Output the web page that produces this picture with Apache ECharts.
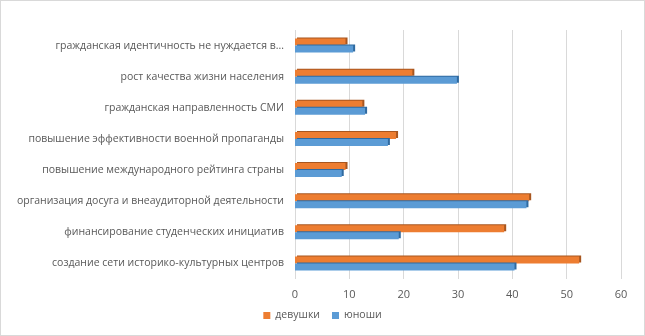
<!DOCTYPE html>
<html><head><meta charset="utf-8">
<script src="https://cdn.jsdelivr.net/npm/echarts@6/dist/echarts.min.js"></script>
<style>html,body{margin:0;padding:0;background:#fff}#c{width:645px;height:336px;box-sizing:border-box;border:1px solid #d9d9d9}</style>
</head><body><div id="c"></div>
<script>
const categories = [
  "создание сети историко-культурных центров",
  "финансирование студенческих инициатив",
  "организация досуга и внеаудиторной деятельности",
  "повышение международного рейтинга страны",
  "повышение эффективности военной пропаганды",
  "гражданская направленность СМИ",
  "рост качества жизни населения",
  "гражданская идентичность не нуждается в..."
];
const girls = [52.3, 38.5, 43.1, 9.3, 18.6, 12.4, 21.6, 9.3];
const boys  = [40.4, 19.1, 42.6, 8.6, 17.1, 12.9, 29.8, 10.7];
const seriesNames = ["девушки", "юноши"];
const xTicks = {min: 0, max: 60, interval: 10};

const chart = echarts.init(document.getElementById('c'));
const font = '"Open Sans", "Liberation Sans", sans-serif';
chart.setOption({
  animation: false,
  textStyle: {fontFamily: font},
  grid: {left: 294, right: 23, top: 29, bottom: 56, containLabel: false},
  legend: {
    data: seriesNames, bottom: 9, left: 'center', itemWidth: 7, itemHeight: 7, itemGap: 12,
    icon: 'rect', textStyle: {color: '#595959', fontSize: 10.5, fontFamily: font}
  },
  xAxis: {
    type: 'value', min: xTicks.min, max: xTicks.max, interval: xTicks.interval,
    axisLine: {show: false}, axisTick: {show: false},
    axisLabel: {color: '#595959', fontSize: 11, margin: 10},
    splitLine: {lineStyle: {color: '#d9d9d9'}}
  },
  yAxis: {
    type: 'category', data: categories,
    axisLine: {show: false}, axisTick: {show: false},
    axisLabel: {color: '#595959', fontSize: 10.5, margin: 11}
  },
  series: [
    {name: seriesNames[0], type: 'bar', data: girls, barWidth: 7, barGap: '0%',
     itemStyle: {color: '#ED7D31', shadowColor: '#a8561f', shadowOffsetX: 2, shadowOffsetY: -1, shadowBlur: 0}},
    {name: seriesNames[1], type: 'bar', data: boys, barWidth: 7, barGap: '0%',
     itemStyle: {color: '#5B9BD5', shadowColor: '#2f6aa0', shadowOffsetX: 2, shadowOffsetY: -1, shadowBlur: 0}}
  ]
});
</script></body></html>
